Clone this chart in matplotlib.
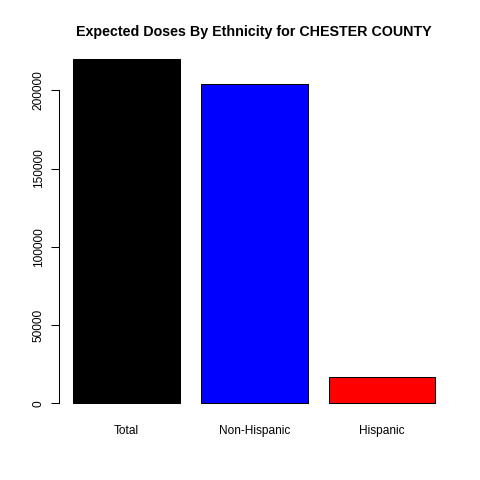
import matplotlib
matplotlib.use("Agg")
import matplotlib.pyplot as plt

plt.rcParams["font.family"] = ["Liberation Sans", "DejaVu Sans"]

categories = ["Total", "Non-Hispanic", "Hispanic"]
doses = [220000, 203800, 16600]
bar_colors = ["black", "blue", "red"]
yticks = [0, 50000, 100000, 150000, 200000]

fig = plt.figure(figsize=(4.8, 4.8), dpi=100)
ax = fig.add_axes([58.5 / 480, 1 - 417 / 480, (450 - 58.5) / 480, (417 - 45.2) / 480])

# R barplot layout: width 1, space 0.2
xs = [0.7 + 1.2 * i for i in range(len(categories))]
ax.bar(xs, doses, width=1.0, color=bar_colors, edgecolor="black", linewidth=0.75)

ax.set_xlim(0.064, 3.736)
ax.set_ylim(-8800, 228800)

for s in ["top", "right", "bottom"]:
    ax.spines[s].set_visible(False)
ax.spines["left"].set_bounds(0, 200000)
ax.spines["left"].set_linewidth(0.75)

ax.set_yticks(yticks)
ax.set_yticklabels([str(v) for v in yticks], rotation=90, va="center", fontsize=8.6)
ax.tick_params(axis="y", length=5.8, width=0.75, pad=4)

ax.set_xticks(xs)
ax.set_xticklabels(categories, fontsize=8.6)
ax.tick_params(axis="x", length=0, pad=6)

# title centred over the plot region, as R does
fig.text(254 / 480, 1 - 32 / 480, "Expected Doses By Ethnicity for CHESTER COUNTY",
         ha="center", va="center", fontsize=10.3, fontweight="bold")

fig.savefig("out.png", dpi=100)
